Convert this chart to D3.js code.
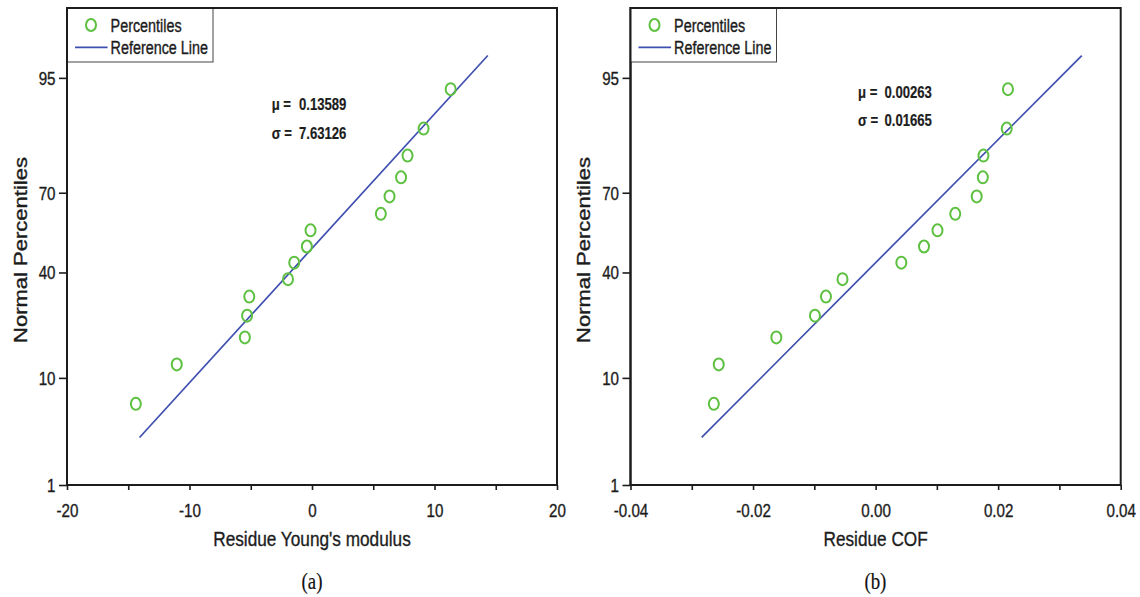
<!DOCTYPE html>
<html><head><meta charset="utf-8">
<script src="https://cdn.jsdelivr.net/npm/d3@7"></script>
<style>body{margin:0;background:#fff} svg{display:block}</style>
</head><body>
<svg id="chart" width="1140" height="597"></svg>
<script>
// ---------- data ----------
const percentiles = [6.25, 12.5, 18.75, 25, 31.25, 37.5, 43.75, 50, 56.25, 62.5, 68.75, 75, 81.25, 87.5, 93.75];
const residueYoung = [-14.38, -11.04, -5.48, -5.30, -5.12, -1.96, -1.45, -0.42, -0.12, 5.62, 6.33, 7.27, 7.80, 9.11, 11.32];
const residueCOF = [-0.0264, -0.0256, -0.0162, -0.0099, -0.0081, -0.0054, 0.0042, 0.0079, 0.0101, 0.0130, 0.0165, 0.0175, 0.0176, 0.0214, 0.0216];
const refPercentRange = [3.125, 96.875];
const muValues = [0.13589, 0.00263];
const sigmaValues = [7.63126, 0.01665];
const muLabels = ["0.13589", "0.00263"];
const sigmaLabels = ["7.63126", "0.01665"];
const yTickLabels = [1, 10, 40, 70, 95];
const yDomainPercent = [1, 99];
const xDomainYoung = [-20, 20];
const xTicksYoung = [-20, -10, 0, 10, 20];
const xTickLabelsYoung = ["-20", "-10", "0", "10", "20"];
const xMinorYoung = [-15, -5, 5, 15];
const xDomainCOF = [-0.04, 0.04];
const xTicksCOF = [-0.04, -0.02, 0, 0.02, 0.04];
const xTickLabelsCOF = ["-0.04", "-0.02", "0.00", "0.02", "0.04"];
const xMinorCOF = [-0.03, -0.01, 0.01, 0.03];
const xTitles = ["Residue Young's modulus", "Residue COF"];
const captions = ["(a)", "(b)"];
const legendLabels = ["Percentiles", "Reference Line"];
const yTitle = "Normal Percentiles";

// ---------- helpers ----------
function probit(p){
  const a=[-3.969683028665376e+01,2.209460984245205e+02,-2.759285104469687e+02,1.383577518672690e+02,-3.066479806614716e+01,2.506628277459239e+00];
  const b=[-5.447609879822406e+01,1.615858368580409e+02,-1.556989798598866e+02,6.680131188771972e+01,-1.328068155288572e+01];
  const c=[-7.784894002430293e-03,-3.223964580411365e-01,-2.400758277161838e+00,-2.549732539343734e+00,4.374664141464968e+00,2.938163982698783e+00];
  const d=[7.784695709041462e-03,3.224671290700398e-01,2.445134137142996e+00,3.754408661907416e+00];
  const pl=0.02425, ph=1-pl; let q,r;
  if(p<pl){q=Math.sqrt(-2*Math.log(p));return (((((c[0]*q+c[1])*q+c[2])*q+c[3])*q+c[4])*q+c[5])/((((d[0]*q+d[1])*q+d[2])*q+d[3])*q+1);}
  if(p<=ph){q=p-0.5;r=q*q;return (((((a[0]*r+a[1])*r+a[2])*r+a[3])*r+a[4])*r+a[5])*q/(((((b[0]*r+b[1])*r+b[2])*r+b[3])*r+b[4])*r+1);}
  q=Math.sqrt(-2*Math.log(1-p));return -(((((c[0]*q+c[1])*q+c[2])*q+c[3])*q+c[4])*q+c[5])/((((d[0]*q+d[1])*q+d[2])*q+d[3])*q+1);
}

const SX = 0.82;
const FONT = "'Liberation Sans', Arial, sans-serif";
const GREEN = "#5dc040";
const BLUE = "#3f4fb0";
const INK = "#1c1c1c";
const svg = d3.select("#chart");

function txt(g, x, y, s, o = {}) {
  return g.append("text")
    .attr("transform", `translate(${x},${y}) scale(${SX},1)` + (o.rotate ? ` rotate(${o.rotate})` : ""))
    .attr("text-anchor", o.anchor || "start")
    .attr("font-family", o.family || FONT)
    .attr("font-size", o.size || 17)
    .attr("font-weight", o.weight || "normal")
    .attr("fill", o.fill || INK)
    .attr("stroke", o.fill || INK)
    .attr("stroke-width", o.sw == null ? 0.35 : o.sw)
    .text(s);
}

const panels = [
  { left: 67, right: 557, xs: residueYoung, xDomain: xDomainYoung, ticks: xTicksYoung, tickLabels: xTickLabelsYoung, minor: xMinorYoung,
    annX: 271.7, annValX: 299, annY: [109.7, 138.6], yTitleX: 27, captionX: 312 },
  { left: 630.5, right: 1120.7, xs: residueCOF, xDomain: xDomainCOF, ticks: xTicksCOF, tickLabels: xTickLabelsCOF, minor: xMinorCOF,
    annX: 858, annValX: 884.5, annY: [97.7, 125.7], yTitleX: 590, captionX: 875.4 }
];
const TOP = 8, BOTTOM = 485;

panels.forEach((P, k) => {
  const g = svg.append("g");
  const x = d3.scaleLinear().domain(P.xDomain).range([P.left, P.right]);
  const yz = d3.scaleLinear().domain(yDomainPercent.map(v => probit(v / 100))).range([BOTTOM, TOP]);
  const y = p => yz(probit(p / 100));

  // y axis
  const ya = g.append("g").attr("transform", `translate(${P.left},0)`)
    .call(d3.axisLeft(yz).tickValues(yTickLabels.map(v => probit(v / 100)))
      .tickFormat((d, i) => yTickLabels[i]).tickSize(8).tickSizeOuter(0));
  ya.select(".domain").remove();
  ya.selectAll(".tick line").attr("stroke", INK).attr("stroke-width", 1.6);
  ya.selectAll(".tick text").attr("x", 0).attr("dy", "0.35em")
    .attr("transform", `translate(-11.5,0) scale(${SX},1)`)
    .attr("font-family", FONT).attr("font-size", 18.5).attr("fill", INK)
    .attr("stroke", INK).attr("stroke-width", 0.35);

  // x axis major
  const xa = g.append("g").attr("transform", `translate(0,${BOTTOM})`)
    .call(d3.axisBottom(x).tickValues(P.ticks).tickFormat((d, i) => P.tickLabels[i]).tickSize(5).tickSizeOuter(0));
  xa.select(".domain").remove();
  xa.selectAll(".tick line").attr("stroke", INK).attr("stroke-width", 1.6);
  xa.selectAll(".tick text").attr("y", 0).attr("dy", 0)
    .attr("transform", `translate(0,31.6) scale(${SX},1)`)
    .attr("font-family", FONT).attr("font-size", 18.5).attr("fill", INK)
    .attr("stroke", INK).attr("stroke-width", 0.35);
  // x axis minor
  const xm = g.append("g").attr("transform", `translate(0,${BOTTOM})`)
    .call(d3.axisBottom(x).tickValues(P.minor).tickFormat("").tickSize(5).tickSizeOuter(0));
  xm.select(".domain").remove();
  xm.selectAll(".tick line").attr("stroke", INK).attr("stroke-width", 1.6);

  // frame
  g.append("rect").attr("x", P.left).attr("y", TOP).attr("width", P.right - P.left).attr("height", BOTTOM - TOP)
    .attr("fill", "none").attr("stroke", INK).attr("stroke-width", 2);

  // reference line
  const mu = muValues[k], sd = sigmaValues[k];
  const refPts = refPercentRange.map(p => [mu + sd * probit(p / 100), p]);
  g.append("path").datum(refPts)
    .attr("d", d3.line().x(d => x(d[0])).y(d => y(d[1])))
    .attr("fill", "none").attr("stroke", BLUE).attr("stroke-width", 1.7);

  // points
  g.selectAll("ellipse.pt").data(P.xs.map((v, i) => [v, percentiles[i]])).join("ellipse")
    .attr("class", "pt")
    .attr("cx", d => x(d[0])).attr("cy", d => y(d[1]))
    .attr("rx", 5).attr("ry", 6)
    .attr("fill", "none").attr("stroke", GREEN).attr("stroke-width", 2);

  // legend
  const L = P.left;
  g.append("rect").attr("x", L).attr("y", TOP).attr("width", 146).attr("height", 54)
    .attr("fill", "#fff").attr("stroke", "#444").attr("stroke-width", 1);
  g.append("ellipse").attr("cx", L + 24).attr("cy", 25).attr("rx", 5).attr("ry", 6)
    .attr("fill", "none").attr("stroke", GREEN).attr("stroke-width", 2);
  g.append("line").attr("x1", L + 8).attr("x2", L + 40.6).attr("y1", 47.3).attr("y2", 47.3)
    .attr("stroke", BLUE).attr("stroke-width", 1.8);
  txt(g, L + 43.6, 31.5, legendLabels[0], { size: 17.5 });
  txt(g, L + 43.6, 53.8, legendLabels[1], { size: 17.5 });
  // redraw frame top/left over legend
  g.append("path").attr("d", `M${P.left},${BOTTOM}V${TOP}H${P.right}`).attr("fill", "none").attr("stroke", INK).attr("stroke-width", 2);

  // annotation
  txt(g, P.annX, P.annY[0], "μ =", { size: 16, weight: "bold", sw: 0.2 });
  txt(g, P.annValX, P.annY[0], muLabels[k], { size: 16, weight: "bold", sw: 0.2 });
  txt(g, P.annX, P.annY[1], "σ =", { size: 16, weight: "bold", sw: 0.2 });
  txt(g, P.annValX, P.annY[1], sigmaLabels[k], { size: 16, weight: "bold", sw: 0.2 });

  // titles
  txt(g, (P.left + P.right) / 2, 546, xTitles[k], { size: 21, anchor: "middle" });
  txt(g, P.yTitleX, 250, yTitle, { size: 22, anchor: "middle", rotate: -90, sw: 0.45 });
  txt(g, P.captionX, 589, captions[k], { size: 23, anchor: "middle", family: "'Liberation Serif', 'Times New Roman', serif", fill: "#111", sw: 0.2 });
});
</script>
</body></html>
